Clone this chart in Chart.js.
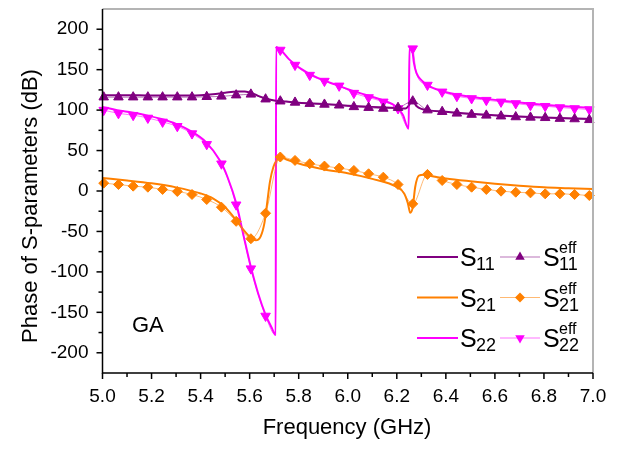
<!DOCTYPE html>
<html>
<head>
<meta charset="utf-8">
<script src="https://cdn.jsdelivr.net/npm/chart.js@4.4.0/dist/chart.umd.min.js"></script>
<style>
  html, body { margin: 0; padding: 0; background: #fff; }
</style>
</head>
<body>
<canvas id="myChart" width="625" height="449"></canvas>
<script>
// solid curves (S-parameters)
var s11Freq = [5.0, 5.1, 5.2, 5.3, 5.4, 5.45, 5.5, 5.55, 5.58, 5.61, 5.64, 5.67, 5.70, 5.75, 5.8, 5.9, 6.0, 6.1, 6.2, 6.235, 6.25, 6.262, 6.28, 6.3, 6.4, 6.5, 6.6, 6.7, 6.8, 6.9, 7.0];
var s11Phase = [118.5, 118.5, 118, 118, 118.5, 119.5, 121.5, 123, 123, 121, 117, 114, 112, 110.5, 109, 107.5, 105.5, 104, 102.5, 102, 106, 113, 105, 101.5, 98, 95.5, 93.5, 92, 91, 90, 89];

var s21Freq = [5.0, 5.1, 5.2, 5.3, 5.4, 5.45, 5.5, 5.545, 5.58, 5.605, 5.625, 5.645, 5.66, 5.67, 5.683, 5.697, 5.71, 5.725, 5.75, 5.8, 5.9, 6.0, 6.1, 6.2, 6.23, 6.245, 6.255, 6.265, 6.275, 6.29, 6.31, 6.35, 6.4, 6.5, 6.6, 6.7, 6.8, 6.9, 7.0];
var s21Phase = [16, 13, 9.5, 4.5, -3, -9, -20, -36, -50, -58, -61, -56, -40, -18, 12, 30, 38, 42, 39, 34, 27, 22, 15, 5, -3, -15, -27, -20, 5, 19, 20, 18, 15.5, 12, 9, 6.5, 4.5, 3.5, 2.5];

var s22Freq = [5.0, 5.06, 5.12, 5.18, 5.24, 5.30, 5.36, 5.42, 5.48, 5.51, 5.545, 5.575, 5.605, 5.635, 5.665, 5.69, 5.706, 5.708, 5.725, 5.76, 5.8, 5.85, 5.9, 5.95, 6.0, 6.05, 6.1, 6.15, 6.2, 6.225, 6.248, 6.252, 6.262, 6.27, 6.28, 6.3, 6.33, 6.38, 6.45, 6.55, 6.65, 6.75, 6.85, 7.0];
var s22Phase = [104, 100, 97, 93.5, 89, 83, 74, 61, 37, 17, -15, -55, -94, -127, -153, -169, -178, 178, 175, 163, 153, 144, 137, 131.5, 126, 121, 116.5, 111.5, 104, 94, 77, 178, 176, 158, 146, 137, 130, 124, 119, 114.5, 111, 108, 105.5, 102.5];

// effective parameters (marker series)
var effFreq = [5.005, 5.065, 5.125, 5.185, 5.245, 5.305, 5.365, 5.425, 5.485, 5.545, 5.605, 5.665, 5.725, 5.785, 5.845, 5.905, 5.965, 6.025, 6.085, 6.145, 6.205, 6.265, 6.325, 6.385, 6.445, 6.505, 6.565, 6.625, 6.685, 6.745, 6.805, 6.865, 6.925, 6.985];
var s11Eff = [116, 116, 116, 116, 116, 116, 116, 116.5, 117, 118.5, 119.5, 113.5, 111, 109.5, 108, 107, 106, 104, 103, 102, 103, 111, 100, 98, 96, 94.5, 93.5, 92.5, 91.5, 91, 90.5, 89.5, 89, 88];
var s21Eff = [9.7, 8, 6, 4.7, 1.9, -0.6, -4.3, -10.5, -20, -37.5, -59, -27.5, 42, 37.8, 33.7, 30.8, 28.3, 25.4, 21.3, 17.1, 8, -15.9, 20.5, 13, 8, 4.7, 1.9, -0.2, -1.5, -2.3, -3.5, -3.5, -4.3, -5.6];
var s22Eff = [100, 96, 93.7, 90.3, 85.4, 80, 71, 57.7, 33.7, -17, -96, -154.5, 174.3, 155.7, 143.3, 135.9, 130, 121, 115.6, 110.2, 102, 176, 131, 122.6, 117.2, 114.4, 112.3, 110.2, 108.2, 106, 104.8, 103.2, 102, 100.7];
// phase wraps and fast decay of the S22eff curve (no marker there)
var s22EffJumpFreq = [5.706, 5.709, 6.248, 6.252, 6.28];
var s22EffJumpPhase = [-178, 178, 78, 178, 145];

var yTitle = "Phase of S-parameters (dB)";
var xTitle = "Frequency (GHz)";
var panelLabel = "GA";

var FONT = '"Liberation Sans", Arial, sans-serif';
var PURPLE = "#800080";
var ORANGE = "#ff8000";
var MAGENTA = "#ff00ff";

function pts(xs, ys, marked) {
  var out = [];
  for (var i = 0; i < xs.length; i++) out.push({ x: xs[i], y: ys[i], m: marked });
  return out;
}

var s22EffData = pts(effFreq, s22Eff, true).concat(pts(s22EffJumpFreq, s22EffJumpPhase, false));
s22EffData.sort(function (a, b) { return a.x - b.x; });

function solid(data, color) {
  return {
    data: data, borderColor: color, borderWidth: 2, pointRadius: 0,
    cubicInterpolationMode: "monotone", clip: false, order: 2
  };
}

function eff(data, color, thin, style, rot, r) {
  return {
    data: data, borderColor: thin, borderWidth: 1,
    pointStyle: style, rotation: rot,
    pointRadius: function (c) { return c.raw && c.raw.m ? r : 0; },
    pointBackgroundColor: color, pointBorderColor: color, pointBorderWidth: 1,
    cubicInterpolationMode: "monotone", clip: false, order: 1
  };
}

function drawTri(ctx, x, y, r, down) {
  var s = down ? -1 : 1;
  ctx.beginPath();
  ctx.moveTo(x, y - s * r);
  ctx.lineTo(x + r * 0.866, y + s * r * 0.5);
  ctx.lineTo(x - r * 0.866, y + s * r * 0.5);
  ctx.closePath();
  ctx.fill();
}

function drawDiamond(ctx, x, y, r) {
  ctx.beginPath();
  ctx.moveTo(x, y - r);
  ctx.lineTo(x + r, y);
  ctx.lineTo(x, y + r);
  ctx.lineTo(x - r, y);
  ctx.closePath();
  ctx.fill();
}

var decorations = {
  id: "decorations",
  afterDraw: function (chart) {
    var ctx = chart.ctx;
    var a = chart.chartArea;
    var xs = chart.scales.x;
    var ys = chart.scales.y;
    ctx.save();

    // frame
    ctx.strokeStyle = "#b4b4b4";
    ctx.lineWidth = 2;
    ctx.beginPath();
    ctx.moveTo(a.left, a.top);
    ctx.lineTo(a.right, a.top);
    ctx.lineTo(a.right, a.bottom);
    ctx.stroke();
    ctx.strokeStyle = "#000";
    ctx.lineWidth = 1.5;
    ctx.beginPath();
    ctx.moveTo(a.left, a.top);
    ctx.lineTo(a.left, a.bottom);
    ctx.lineTo(a.right, a.bottom);
    ctx.stroke();

    // ticks, major and minor, pointing out
    ys.ticks.forEach(function (t) {
      if (t.value < -200 || t.value > 200) return;
      var y = ys.getPixelForValue(t.value);
      var len = t.value % 50 === 0 ? 6 : 4;
      ctx.beginPath();
      ctx.moveTo(a.left - len, y);
      ctx.lineTo(a.left, y);
      ctx.stroke();
    });
    xs.ticks.forEach(function (t, i) {
      var x = xs.getPixelForValue(t.value);
      var len = i % 2 === 0 ? 6 : 4;
      ctx.beginPath();
      ctx.moveTo(x, a.bottom);
      ctx.lineTo(x, a.bottom + len);
      ctx.stroke();
    });

    // axis titles
    ctx.fillStyle = "#000";
    ctx.font = "22px " + FONT;
    ctx.textAlign = "center";
    ctx.textBaseline = "middle";
    ctx.fillText(xTitle, 347, 428);
    ctx.save();
    ctx.translate(31, 206);
    ctx.rotate(-Math.PI / 2);
    ctx.fillText(yTitle, 0, 0);
    ctx.restore();

    ctx.textAlign = "left";
    ctx.textBaseline = "alphabetic";
    ctx.fillText(panelLabel, 132, 332);

    // legend
    var rows = [
      { c: PURPLE, thin: "rgba(128,0,128,0.55)", sub: "11", mk: "up" },
      { c: ORANGE, thin: "rgba(255,128,0,0.55)", sub: "21", mk: "dia" },
      { c: MAGENTA, thin: "rgba(255,0,255,0.55)", sub: "22", mk: "down" }
    ];
    rows.forEach(function (r, i) {
      var y = 257 + i * 40.5;
      ctx.strokeStyle = r.c;
      ctx.lineWidth = 2;
      ctx.beginPath();
      ctx.moveTo(417, y);
      ctx.lineTo(458, y);
      ctx.stroke();
      ctx.strokeStyle = r.thin;
      ctx.lineWidth = 1;
      ctx.beginPath();
      ctx.moveTo(500, y);
      ctx.lineTo(540, y);
      ctx.stroke();
      ctx.fillStyle = r.c;
      if (r.mk === "up") drawTri(ctx, 520, y, 5.5, false);
      else if (r.mk === "down") drawTri(ctx, 520, y, 5.5, true);
      else drawDiamond(ctx, 520, y, 5);

      ctx.fillStyle = "#000";
      ctx.font = "25px " + FONT;
      ctx.fillText("S", 460, y + 9);
      ctx.fillText("S", 543, y + 9);
      ctx.font = "18px " + FONT;
      ctx.fillText(r.sub, 476, y + 13);
      ctx.fillText(r.sub, 559, y + 13);
      ctx.font = "16px " + FONT;
      ctx.fillText("eff", 559, y - 4);
    });

    ctx.restore();
  }
};

var ctx = document.getElementById("myChart").getContext("2d");

var myChart = new Chart(ctx, {
  type: "line",
  data: {
    datasets: [
      solid(pts(s11Freq, s11Phase, false), PURPLE),
      solid(pts(s21Freq, s21Phase, false), ORANGE),
      solid(pts(s22Freq, s22Phase, false), MAGENTA),
      eff(pts(effFreq, s11Eff, true), PURPLE, "rgba(128,0,128,0.55)", "triangle", 0, 5.5),
      eff(pts(effFreq, s21Eff, true), ORANGE, "rgba(255,128,0,0.55)", "rectRot", 0, 5),
      eff(s22EffData, MAGENTA, "rgba(255,0,255,0.55)", "triangle", 180, 5.5)
    ]
  },
  options: {
    responsive: false,
    animation: false,
    devicePixelRatio: 1,
    layout: { padding: { top: 9, right: 32, left: 0, bottom: 0 } },
    plugins: { legend: { display: false }, tooltip: { enabled: false } },
    scales: {
      x: {
        type: "linear",
        min: 5,
        max: 7,
        grid: { display: false, drawTicks: false },
        border: { display: false },
        ticks: {
          stepSize: 0.1,
          autoSkip: false,
          maxRotation: 0,
          padding: 12,
          color: "#000",
          font: { size: 19, family: FONT },
          callback: function (v, i) { return i % 2 === 0 ? Number(v).toFixed(1) : ""; }
        },
        afterFit: function (s) { s.height = 76; s.paddingLeft = 0; s.paddingRight = 0; }
      },
      y: {
        min: -225,
        max: 225,
        grid: { display: false, drawTicks: false },
        border: { display: false },
        ticks: {
          stepSize: 25,
          autoSkip: false,
          padding: 14,
          color: "#000",
          font: { size: 19, family: FONT },
          callback: function (v) { return (v % 50 === 0 && Math.abs(v) <= 200) ? v : ""; }
        },
        afterFit: function (s) { s.width = 102.5; s.paddingTop = 0; s.paddingBottom = 0; }
      }
    }
  },
  plugins: [decorations]
});
</script>
</body>
</html>
